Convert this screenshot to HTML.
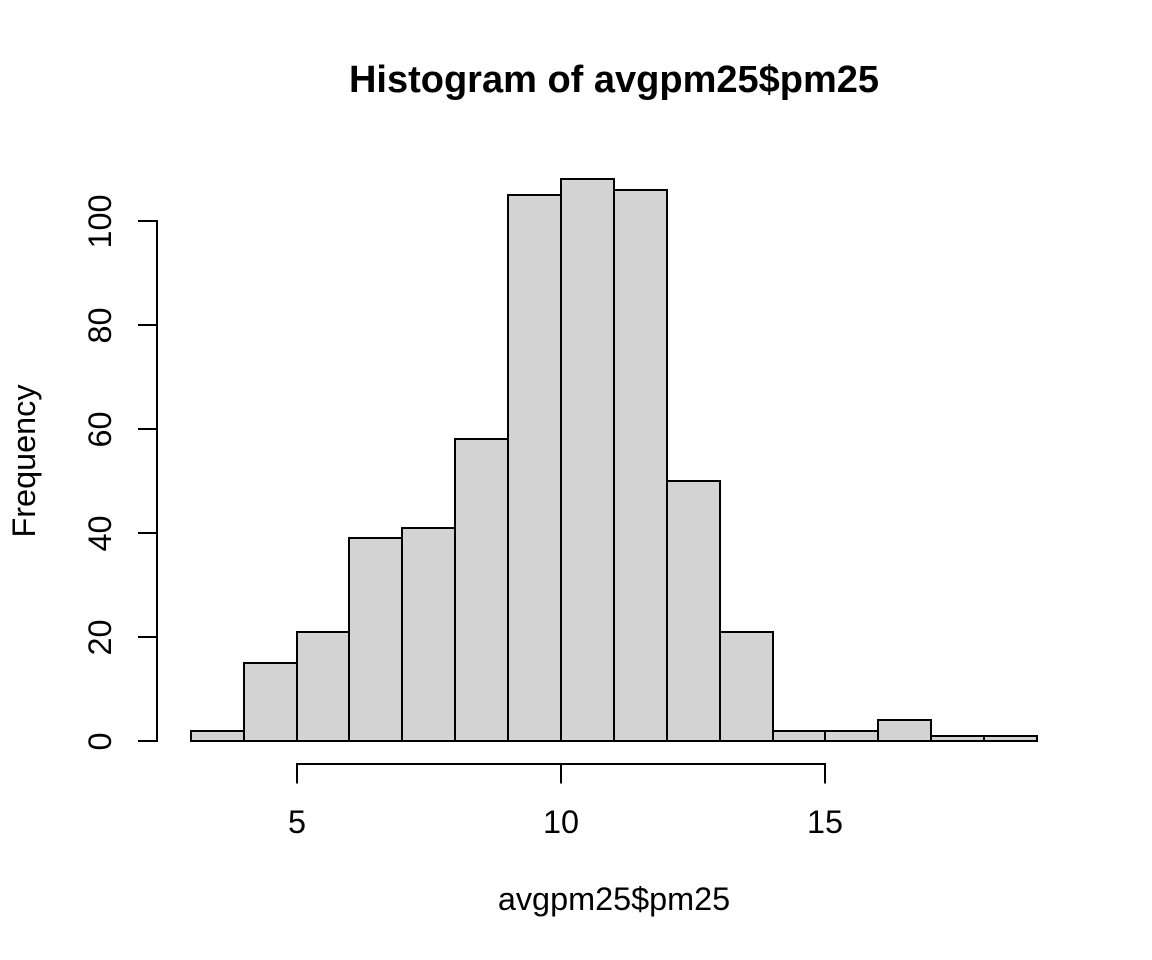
<!DOCTYPE html>
<html lang="en">
<head>
<meta charset="utf-8">
<title>Histogram of avgpm25$pm25</title>
<style>
html,body{margin:0;padding:0;background:#fff;}
svg{display:block;}
text{font-family:"Liberation Sans",Arial,sans-serif;fill:#000;}
</style>
</head>
<body>
<svg id="chart" xmlns="http://www.w3.org/2000/svg" width="1152" height="960" viewBox="0 0 1152 960">
<rect x="0" y="0" width="1152" height="960" fill="#ffffff"/>
<text x="614" y="92" font-size="38" font-weight="bold" text-anchor="middle">Histogram of avgpm25$pm25</text>
<text x="614" y="910" font-size="32.4" text-anchor="middle">avgpm25$pm25</text>
<text transform="translate(35 461) rotate(-90)" font-size="32.4" text-anchor="middle">Frequency</text>
<g id="bars"></g>
<g id="x-axis"></g>
<g id="y-axis"></g>
</svg>
<script>
var binStart = 3;
var binWidth = 1;
var frequencies = [2, 15, 21, 39, 41, 58, 105, 108, 106, 50, 21, 2, 2, 4, 1, 1];
var xTicks = [5, 10, 15];
var yTicks = [0, 20, 40, 60, 80, 100];

var NS = 'http://www.w3.org/2000/svg';
function sx(v) { return Math.floor(297 + (v - 5) * 52.89); }
function sy(v) { return Math.floor(741.69 - v * 5.2016); }
function make(tag, parent, attrs) {
  var el = document.createElementNS(NS, tag);
  for (var k in attrs) { el.setAttribute(k, attrs[k]); }
  parent.appendChild(el);
  return el;
}

var barsGroup = document.getElementById('bars');
frequencies.forEach(function (count, i) {
  var x0 = sx(binStart + i * binWidth);
  var x1 = sx(binStart + (i + 1) * binWidth);
  var bar = make('rect', barsGroup, {
    x: x0, y: sy(count), width: x1 - x0, height: sy(0) - sy(count),
    fill: '#d3d3d3', stroke: '#000000', 'stroke-width': 2
  });
  
  
});

var xAxisGroup = document.getElementById('x-axis');
var xAxisY = 764;
var xLine = make('line', xAxisGroup, {
  x1: sx(xTicks[0]) - 1, x2: sx(xTicks[xTicks.length - 1]) + 1, y1: xAxisY, y2: xAxisY,
  stroke: '#000000', 'stroke-width': 2
});


xTicks.forEach(function (t) {
  var tick = make('line', xAxisGroup, {
    x1: sx(t), x2: sx(t), y1: xAxisY, y2: xAxisY + 19.5,
    stroke: '#000000', 'stroke-width': 2
  });
  
  
  var label = make('text', xAxisGroup, {
    x: sx(t), y: 833, 'font-size': 32.4, 'text-anchor': 'middle'
  });
  label.textContent = String(t);
  
  
});

var yAxisGroup = document.getElementById('y-axis');
var yAxisX = 157;
var yLine = make('line', yAxisGroup, {
  x1: yAxisX, x2: yAxisX, y1: sy(yTicks[0]) + 1, y2: sy(yTicks[yTicks.length - 1]) - 1,
  stroke: '#000000', 'stroke-width': 2
});


yTicks.forEach(function (t) {
  var tick = make('line', yAxisGroup, {
    x1: yAxisX - 19, x2: yAxisX, y1: sy(t), y2: sy(t),
    stroke: '#000000', 'stroke-width': 2
  });
  
  
  var label = make('text', yAxisGroup, {
    transform: 'translate(111 ' + (sy(t) + 0.5) + ') rotate(-90)', 'font-size': 32.4, 'text-anchor': 'middle'
  });
  label.textContent = String(t);
  
  
});
</script>
</body>
</html>
